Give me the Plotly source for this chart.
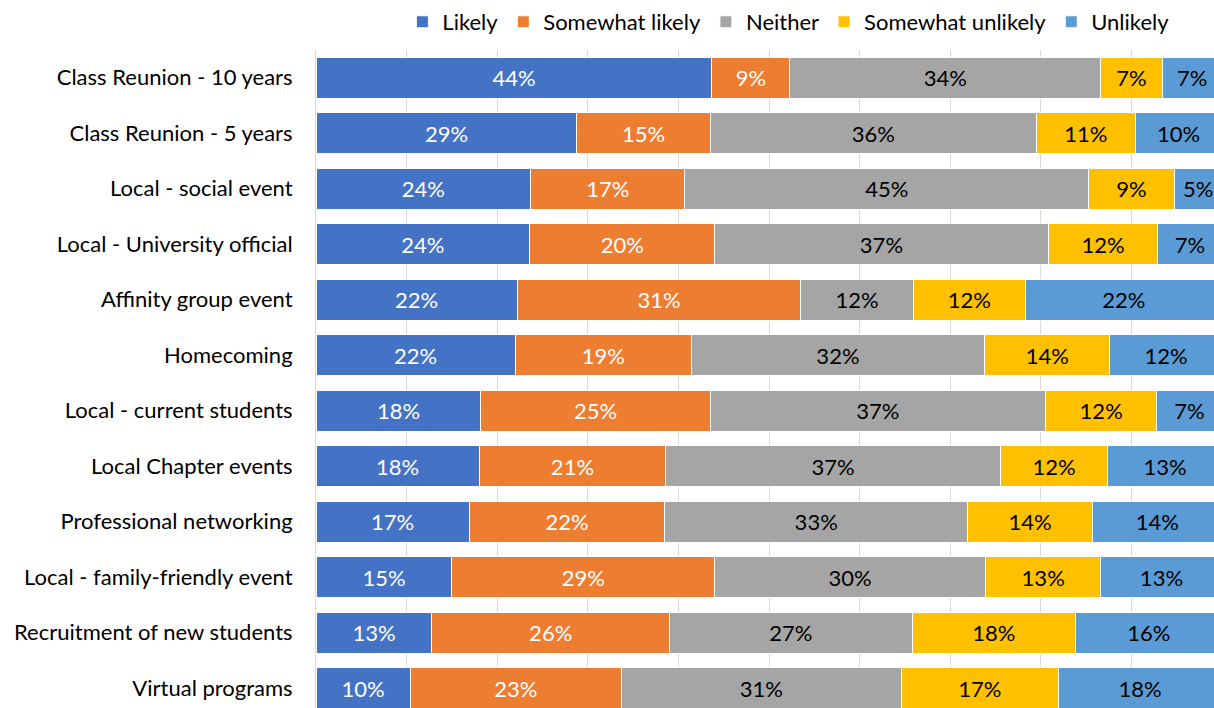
import plotly.graph_objects as go

categories = [
    "Class Reunion - 10 years", "Class Reunion - 5 years", "Local - social event",
    "Local - University official", "Affinity group event", "Homecoming",
    "Local - current students", "Local Chapter events", "Professional networking",
    "Local - family-friendly event", "Recruitment of new students", "Virtual programs",
]
likely = [43.7, 28.8, 23.7, 23.6, 22.2, 22.0, 18.2, 18.0, 16.9, 15.0, 12.8, 10.4]
somewhat_likely = [8.6, 14.7, 17.0, 20.4, 31.3, 19.4, 25.3, 20.6, 21.6, 29.0, 26.2, 23.3]
neither = [34.3, 36.0, 44.6, 36.8, 12.4, 32.4, 37.0, 36.9, 33.4, 29.9, 26.8, 30.9]
somewhat_unlikely = [6.8, 10.9, 9.4, 12.1, 12.4, 13.8, 12.3, 11.9, 13.8, 12.7, 18.0, 17.3]
unlikely = [6.6, 9.6, 5.3, 7.1, 21.7, 12.4, 7.2, 12.6, 14.3, 13.4, 16.2, 18.1]

series = [
    ("Likely", likely, "#4472C4", "white"),
    ("Somewhat likely", somewhat_likely, "#ED7D31", "white"),
    ("Neither", neither, "#A5A5A5", "black"),
    ("Somewhat unlikely", somewhat_unlikely, "#FFC000", "black"),
    ("Unlikely", unlikely, "#5B9BD5", "black"),
]

FONT = "Lato, Carlito, Calibri, sans-serif"
FS = 22

fig = go.Figure()
for name, vals, color, tcol in series:
    fig.add_trace(go.Bar(
        y=categories, x=[v / 100 for v in vals], name=name, orientation="h",
        marker=dict(color=color, line=dict(color="white", width=1)),
        text=[f"{round(v):d}%" for v in vals],
        textposition="inside", insidetextanchor="middle",
        textfont=dict(color=tcol, size=FS, family=FONT),
        constraintext="none", cliponaxis=True,
        hoverinfo="skip",
    ))

fig.update_layout(
    barmode="stack", bargap=0.26,
    width=1214, height=708,
    margin=dict(l=316, r=0, t=50, b=0),
    paper_bgcolor="white", plot_bgcolor="white",
    font=dict(family=FONT, size=FS, color="black"),
    showlegend=True,
    legend=dict(orientation="h", x=0.526, xanchor="center", y=1.0426, yanchor="middle",
                font=dict(size=FS, family=FONT), traceorder="normal",
                itemwidth=30, bgcolor="rgba(0,0,0,0)"),
    uniformtext=dict(mode=False),
)
fig.update_xaxes(range=[0, 0.991], dtick=0.1, showgrid=True, gridcolor="#D9D9D9", gridwidth=1,
                 showticklabels=False, zeroline=False, showline=False, fixedrange=True)
fig.update_yaxes(range=[11.36, -0.5], categoryorder="array", categoryarray=categories,
                 showgrid=False, showline=True, linecolor="#D9D9D9", linewidth=1,
                 ticks="", ticklabelstandoff=18, tickfont=dict(size=FS, family=FONT, color="black"),
                 fixedrange=True)

fig.write_html("out.html", config={"displayModeBar": False, "staticPlot": True},
               post_script="document.body.style.margin='0';document.body.style.overflow='hidden';")
